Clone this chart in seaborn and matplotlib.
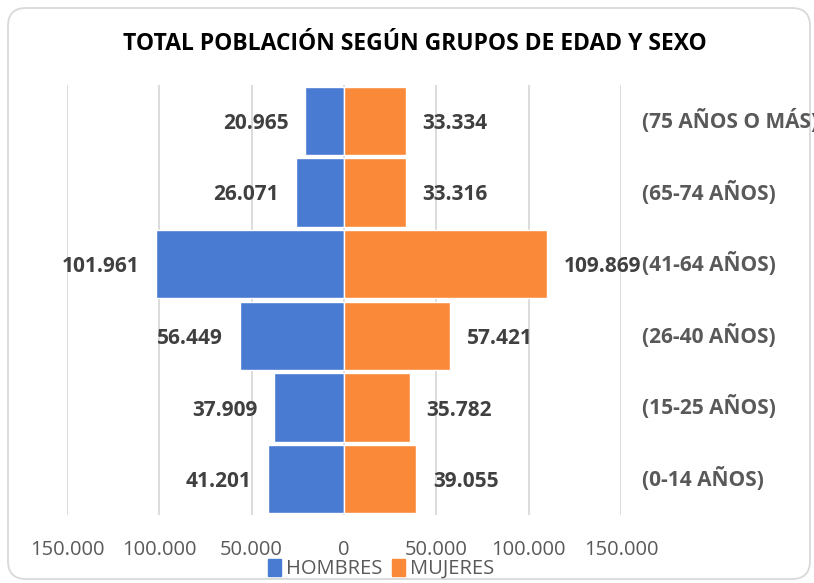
import matplotlib
matplotlib.use("Agg")
import matplotlib.pyplot as plt
from matplotlib.patches import FancyBboxPatch, Patch
import numpy as np
import pandas as pd
import seaborn as sns

# data
grupos = ["(75 AÑOS O MÁS)", "(65-74 AÑOS)", "(41-64 AÑOS)",
          "(26-40 AÑOS)", "(15-25 AÑOS)", "(0-14 AÑOS)"]
hombres = [20965, 26071, 101961, 56449, 37909, 41201]
mujeres = [33334, 33316, 109869, 57421, 35782, 39055]
x_ticks = [-150000, -100000, -50000, 0, 50000, 100000, 150000]

BLUE = "#4A7BD2"
ORANGE = "#FA8A3A"
GREY = "#595959"
DARK = "#404040"


def miles(v):
    return f"{abs(int(v)):,}".replace(",", ".")


df = pd.concat([
    pd.DataFrame({"grupo": grupos, "valor": [-v for v in hombres], "sexo": "HOMBRES"}),
    pd.DataFrame({"grupo": grupos, "valor": mujeres, "sexo": "MUJERES"}),
])

sns.set_theme(style="white")
plt.rcParams["font.family"] = ["Open Sans", "DejaVu Sans"]

fig = plt.figure(figsize=(8.14, 5.83), dpi=100)
fig.patch.set_facecolor("white")

# rounded chart frame (pixel coords), kept behind the axes
frame = FancyBboxPatch((8, 4), 802, 571, boxstyle="round,pad=0,rounding_size=18",
                       transform=None, fc="white", ec="#D9D9D9", lw=1.3, zorder=-5)
fig.patches.append(frame)

ax = fig.add_axes([67 / 814, 1 - 515 / 583, (621 - 67) / 814, (515 - 85) / 583])
ax.set_facecolor("none")

sns.barplot(data=df, y="grupo", x="valor", hue="sexo", order=grupos,
            palette={"HOMBRES": BLUE, "MUJERES": ORANGE}, dodge=False,
            saturation=1, width=0.95, orient="h", edgecolor="white",
            linewidth=1, ax=ax)
ax.get_legend().remove()

ax.set_xlim(-150000, 150000)
ax.set_xticks(x_ticks)
ax.set_xticklabels([miles(v) for v in x_ticks])
ax.set_xlabel("")
ax.set_ylabel("")
ax.grid(axis="x", color="#D9D9D9", lw=1.3)
ax.grid(axis="y", visible=False)
ax.set_axisbelow(True)
for s in ax.spines.values():
    s.set_visible(False)

ax.tick_params(axis="x", length=0, pad=18, labelsize=14.5, labelcolor=GREY)
ax.yaxis.tick_right()
ax.tick_params(axis="y", length=0, pad=15, labelsize=15, labelcolor=GREY)
for lab in ax.get_yticklabels():
    lab.set_fontweight("bold")
    lab.set_verticalalignment("center")

# value labels
for i, (h, m) in enumerate(zip(hombres, mujeres)):
    ax.annotate(miles(h), (-h, i), xytext=(-12, 0), textcoords="offset points",
                ha="right", va="center_baseline", fontsize=15,
                fontweight="bold", color=DARK)
    ax.annotate(miles(m), (m, i), xytext=(12, 0), textcoords="offset points",
                ha="left", va="center_baseline", fontsize=15,
                fontweight="bold", color=DARK)

fig.text(415 / 814, 1 - 44 / 583, "TOTAL POBLACIÓN SEGÚN GRUPOS DE EDAD Y SEXO",
         ha="center", va="center", fontsize=16.5, fontweight="bold", color="black")

handles = [Patch(color=BLUE, label="HOMBRES"), Patch(color=ORANGE, label="MUJERES")]
leg = fig.legend(handles=handles, loc="center", ncol=2,
                 bbox_to_anchor=(381 / 814, 1 - 569 / 583), frameon=False,
                 fontsize=14.5, handlelength=0.65, handleheight=0.9,
                 handletextpad=0.25, columnspacing=0.5, borderpad=0)
for t in leg.get_texts():
    t.set_color(GREY)

fig.savefig("out.png", dpi=100)
plt.close(fig)
